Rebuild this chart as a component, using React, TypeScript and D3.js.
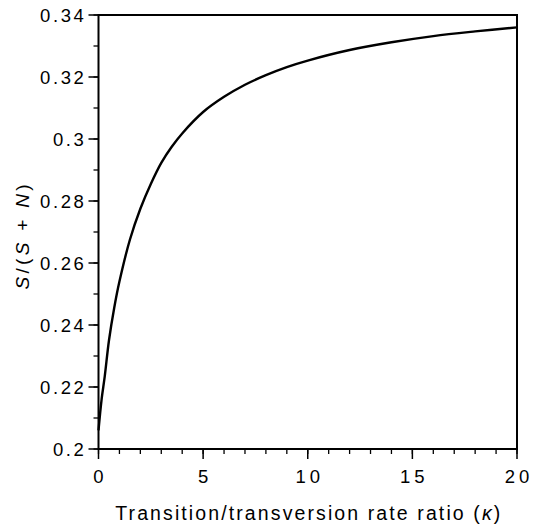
import React from 'react';
import * as d3 from 'd3';

// transition/transversion ratio (kappa) vs S/(S+N)
const kappa = [0, 0.15, 0.3, 0.5, 0.75, 1, 1.5, 2, 2.5, 3, 3.5, 4, 5, 6, 7, 8, 9, 10, 12, 14, 16, 18, 20];
const ratio = [0.206, 0.2161, 0.2235, 0.235, 0.2455, 0.254, 0.2675, 0.2775, 0.2855, 0.2923, 0.2975, 0.3018, 0.3087, 0.3136, 0.3175, 0.3206, 0.3232, 0.3253, 0.3287, 0.3312, 0.3332, 0.3347, 0.336];

const xTicks = [0, 5, 10, 15, 20];
const xTickLabels = ['0', '5', '10', '15', '20'];
const yTicks = [0.2, 0.22, 0.24, 0.26, 0.28, 0.3, 0.32, 0.34];
const yTickLabels = ['0.2', '0.22', '0.24', '0.26', '0.28', '0.3', '0.32', '0.34'];
const xMinor = d3.range(0, 21, 1);
const yMinor = d3.range(0, 15).map(i => 0.2 + i * 0.01);

const W = 540;
const H = 524;
const margin = { top: 15, right: 23, bottom: 75, left: 98.5 };

const App = () => {
  const x = d3.scaleLinear().domain([0, 20]).range([margin.left, W - margin.right]);
  const y = d3.scaleLinear().domain([0.2, 0.34]).range([H - margin.bottom, margin.top]);

  const pts: [number, number][] = kappa.map((k, i) => [k, ratio[i]]);
  const line = d3.line<[number, number]>()
    .x(d => x(d[0]))
    .y(d => y(d[1]))
    .curve(d3.curveCatmullRom.alpha(0.5));

  const font = '"Liberation Sans", Arial, Helvetica, sans-serif';
  const x0 = x(0), x1 = x(20), y0 = y(0.2), y1 = y(0.34);

  return (
    <svg width={W} height={H} style={{ position: 'absolute', left: 0, top: 0, background: '#fff' }} fontFamily={font}>
      {/* curve */}
      <path d={line(pts) || ''} fill="none" stroke="#000" strokeWidth={2.4} strokeLinejoin="round" />

      {/* frame */}
      <rect x={x0} y={y1} width={x1 - x0} height={y0 - y1} fill="none" stroke="#000" strokeWidth={2} />

      {/* y ticks */}
      {yMinor.map((v, i) => (
        <line key={'ym' + i} x1={x0 - 5} x2={x0} y1={y(v)} y2={y(v)} stroke="#000" strokeWidth={1.3} />
      ))}
      {yTicks.map((v, i) => (
        <g key={'y' + i}>
          <line x1={x0 - 10} x2={x0} y1={y(v)} y2={y(v)} stroke="#000" strokeWidth={1.5} />
          <text x={x0 - 12} y={y(v) + 6.5} textAnchor="end" fontSize={18.5} letterSpacing={2.6}>
            {yTickLabels[i]}
          </text>
        </g>
      ))}

      {/* x ticks */}
      {xMinor.map((v, i) => (
        <line key={'xm' + i} x1={x(v)} x2={x(v)} y1={y0} y2={y0 + 5} stroke="#000" strokeWidth={1.3} />
      ))}
      {xTicks.map((v, i) => (
        <g key={'x' + i}>
          <line x1={x(v)} x2={x(v)} y1={y0} y2={y0 + 10} stroke="#000" strokeWidth={1.5} />
          <text x={x(v) + 2} y={483} textAnchor="middle" fontSize={18.5} letterSpacing={4}>
            {xTickLabels[i]}
          </text>
        </g>
      ))}

      {/* axis titles */}
      <text x={(x0 + x1) / 2} y={520} textAnchor="middle" fontSize={19.5} textLength={385} lengthAdjust="spacing">
        Transition/transversion rate ratio (<tspan fontStyle="italic">κ</tspan>)
      </text>
      <text transform={`translate(29,${(y0 + y1) / 2 + 5}) rotate(-90)`} textAnchor="middle" fontSize={19} textLength={105} lengthAdjust="spacing">
        <tspan fontStyle="italic">S</tspan>/(<tspan fontStyle="italic">S</tspan> + <tspan fontStyle="italic">N</tspan>)
      </text>
    </svg>
  );
};

export default App;
